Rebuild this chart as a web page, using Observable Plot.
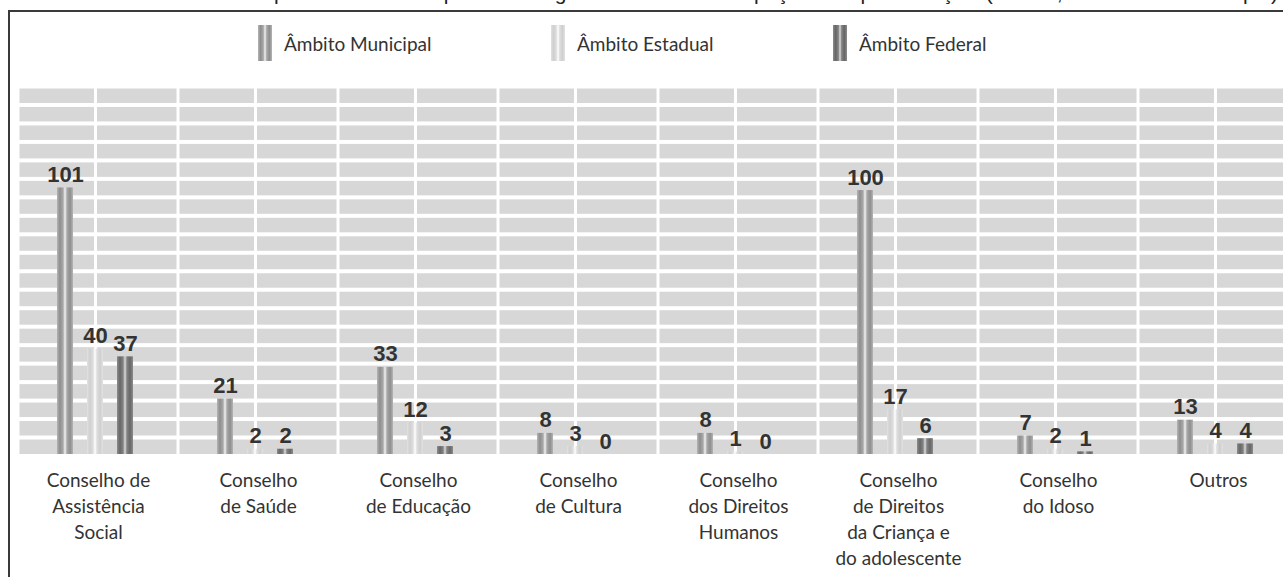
<!DOCTYPE html>
<html>
<head>
<meta charset="utf-8">
<script src="https://cdn.jsdelivr.net/npm/d3@7"></script>
<script src="https://cdn.jsdelivr.net/npm/@observablehq/plot@0.6"></script>
<style>
  html, body { margin: 0; padding: 0; background: #fff; overflow: hidden; width: 1283px; height: 577px; }
  #title { position: absolute; left: 0; top: -18px; width: 1278px; font: 21px/21px "Liberation Sans", Arial, sans-serif; color: #222; white-space: nowrap; text-align: left; text-align-last: justify; }
  #frame { position: absolute; left: 8px; top: 10px; width: 1400px; height: 700px; border-left: 2px solid #3a3a3a; border-top: 2px solid #3a3a3a; z-index: 2; pointer-events: none; }
  #chart { position: absolute; left: 10px; top: 12px; }
  #legend { position: absolute; left: 0; top: 0; width: 1283px; height: 80px; z-index: 3; }
  .item { position: absolute; top: 25px; height: 36px; display: flex; align-items: center; font: 19px "Lato", "Open Sans", sans-serif; color: #333; }
  .sw { width: 14px; height: 36px; margin-right: 12px; }
</style>
</head>
<body>
<div id="title">Gráfico 1 – Conselhos em que as entidades possuem lugar ou assento e espaço de representação (federal, estadual e municipal)</div>
<div id="chart"></div>
<div id="frame"></div>
<div id="legend"></div>
<script>
// ---- data ----
const categories = [
  "Conselho de Assistência Social",
  "Conselho de Saúde",
  "Conselho de Educação",
  "Conselho de Cultura",
  "Conselho dos Direitos Humanos",
  "Conselho de Direitos da Criança e do adolescente",
  "Conselho do Idoso",
  "Outros"
];
const categoryLabels = [
  "Conselho de\nAssistência\nSocial",
  "Conselho\nde Saúde",
  "Conselho\nde Educação",
  "Conselho\nde Cultura",
  "Conselho\ndos Direitos\nHumanos",
  "Conselho\nde Direitos\nda Criança e\ndo adolescente",
  "Conselho\ndo Idoso",
  "Outros"
];
const series = ["Âmbito Municipal", "Âmbito Estadual", "Âmbito Federal"];
const municipal = [101, 21, 33, 8, 8, 100, 7, 13];
const estadual  = [40, 2, 12, 3, 1, 17, 2, 4];
const federal   = [37, 2, 3, 0, 0, 6, 1, 4];
const yMax = 140;
const gridRows = [0, 7, 14, 21, 28, 35, 42, 49, 56, 63, 70, 77, 84, 91, 98, 105, 112, 119, 126, 133];
const gridStep = 7;

// ---- styles ----
const gradients = {
  gM: ["#b4b4b4", "#8e8e8e", "#a9a9a9", "#f2f2f2", "#a9a9a9", "#8e8e8e", "#b4b4b4"],
  gE: ["#e2e2e2", "#cfcfcf", "#dedede", "#ffffff", "#dedede", "#cfcfcf", "#e2e2e2"],
  gF: ["#8c8c8c", "#676767", "#828282", "#dcdcdc", "#828282", "#676767", "#8c8c8c"]
};
const gradStops = [0, 0.18, 0.38, 0.5, 0.62, 0.82, 1];
const gradIds = ["gM", "gE", "gF"];

const values = [municipal, estadual, federal];
const table = [];
categories.forEach((c, i) => series.forEach((s, j) => table.push({category: c, series: s, value: values[j][i]})));

const chart = Plot.plot({
  width: 1288,
  height: 565,
  marginLeft: 8,
  marginRight: 0,
  marginTop: 72.5,
  marginBottom: 123,
  style: "max-width:none;background:transparent;overflow:visible;",
  fx: {domain: categories, padding: 0, axis: null},
  x: {domain: series, paddingInner: 0.47, paddingOuter: 1.4, align: 0.46, axis: null},
  y: {domain: [0, yMax], axis: null},
  color: {domain: series, range: gradIds.map(id => `url(#${id})`)},
  marks: [
    Plot.rect(gridRows, {y1: d => d, y2: d => d + gridStep, insetTop: 4, insetLeft: 1.5, insetRight: 1.5, fill: "#d7d7d7"}),
    Plot.ruleX([series[1]], {x: d => d, y1: 0, y2: yMax, stroke: "#fff", strokeWidth: 3}),
    Plot.barY(table, {fx: "category", x: "series", y: "value", fill: "series"}),
    Plot.text(table, {fx: "category", x: "series", y: "value", text: d => String(d.value), lineAnchor: "bottom", dy: -6,
      fontSize: 22, fontWeight: "bold", fill: "#333", fontFamily: "Liberation Sans, Arial, sans-serif"}),
    Plot.text(categories, {fx: d => d, text: (d, i) => categoryLabels[i], frameAnchor: "bottom", lineAnchor: "top", dy: 14,
      fontSize: 19, lineHeight: 1.37, fill: "#333", fontFamily: "Lato, Open Sans, sans-serif"})
  ]
});

const svg = d3.select(chart);
const defs = svg.insert("defs", ":first-child");
gradIds.forEach(id => {
  const g = defs.append("linearGradient").attr("id", id).attr("x1", "0").attr("x2", "1").attr("y1", "0").attr("y2", "0");
  gradients[id].forEach((c, k) => g.append("stop").attr("offset", gradStops[k]).attr("stop-color", c));
});
document.getElementById("chart").appendChild(chart);

// ---- legend ----
const legendLeft = [258, 551, 833];
const legend = d3.select("#legend");
series.forEach((s, j) => {
  const item = legend.append("div").attr("class", "item").style("left", legendLeft[j] + "px");
  const cols = gradients[gradIds[j]];
  item.append("div").attr("class", "sw")
    .style("background", `linear-gradient(to right, ${cols.map((c, k) => `${c} ${gradStops[k] * 100}%`).join(", ")})`);
  item.append("span").text(s);
});
</script>
</body>
</html>
